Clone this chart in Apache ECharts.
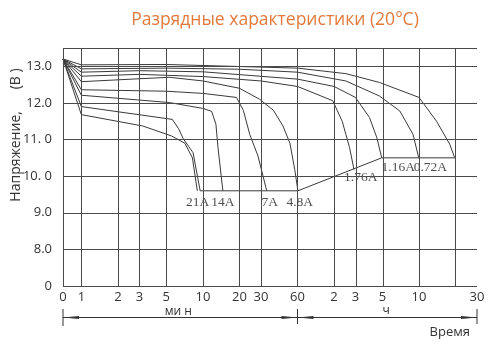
<!DOCTYPE html>
<html><head><meta charset="utf-8">
<script src="https://cdn.jsdelivr.net/npm/echarts@6/dist/echarts.min.js"></script>
<style>html,body{margin:0;padding:0;background:#fff}#c{width:502px;height:345px}</style>
</head><body><div id="c"></div>
<script>
// ---- axis ticks ----
const xTickMinutes = [0,1,2,3,5,10,20,30,60,120,180,300,600,1200,1800];
const xTickLabels  = ['0','1','2','3','5','10','20','30','60','2','3','5','10','','30'];
const yTickVolts   = [0,8,9,10,11,12,13];
const yTickLabels  = ['0','8.0','9.0','10. 0','11. 0','12.0','13.0'];
const yTopVolts = 13.5;

// ---- discharge curves (time in minutes, voltage in V) ----
const tExtra = [0,1,3.2,5.5,7.1,8.2,9.0];
const vExtra = [13.2,11.68,11.37,11.1,10.9,10.5,9.6];
const t21 = [0,1,5.6,6.3,6.9,8.3,9.5];
const v21 = [13.2,11.9,11.55,11.3,11.02,10.64,9.6];
const t14 = [0,1,5.3,10,11.8,12.8,13.3,14.6];
const v14 = [13.2,12.21,12.01,11.85,11.77,11.42,10.79,9.6];
const t7  = [0,1,5,10,18.9,21.5,24.3,28.4,33.5];
const v7  = [13.2,12.36,12.32,12.26,12.15,11.8,11.14,10.55,9.6];
const t48 = [0,1,3,5.3,10,20,29.3,38,45.6,52,57,60.5];
const v48 = [13.2,12.58,12.66,12.70,12.6,12.4,12.10,11.8,11.37,10.9,10.18,9.6];
const t176 = [0,1,3,10,30,60,117,140,161,175];
const v176 = [13.2,12.73,12.78,12.72,12.6,12.45,12.06,11.5,10.78,10.18];
const t116 = [0,1,3,10,60,120,180,235,270,296];
const v116 = [13.2,12.84,12.88,12.85,12.65,12.45,12.15,11.6,11.05,10.5];
const t072 = [0,1,5,20,60,150,283,417,536,597];
const v072 = [13.2,12.93,12.95,12.92,12.84,12.6,12.19,11.78,11.14,10.5];
const t035 = [0,1,5,60,150,283,600,836,1075,1180];
const v035 = [13.2,13.04,13.05,12.95,12.8,12.56,12.15,11.5,10.87,10.5];

// final-voltage line
const tCut = [9.5,60.5,296,1180];
const vCut = [9.6,9.6,10.5,10.5];

// current labels
const labelNames = ['21A','14A','7A','4.8A','1.76A','1.16A','0.72A'];
const labelT = [9.06,14.6,35.5,62.6,199,405,745];
const labelV = [9.6,9.6,9.6,9.6,10.28,10.5,10.5];

// ---- scales (broken axes) ----
const X0 = -0.151;
function tx(m){ return m <= 0 ? X0 : Math.log10(m); }
function ty(v){ return v >= 8 ? v - 7 : v / 8; }
function pts(t, v){ return t.map((m,i)=>[tx(m), ty(v[i])]); }

const curves = [[tExtra,vExtra],[t21,v21],[t14,v14],[t7,v7],[t48,v48],[t176,v176],[t116,v116],[t072,v072],[t035,v035]];
const LINE = '#3a3a3a', GRID = '#4a4a4a';

const series = curves.map(c=>({
  type:'line', data: pts(c[0],c[1]), showSymbol:false, symbol:'none', silent:true,
  lineStyle:{color:LINE, width:1}, z:3
}));
series.push({type:'line', data: pts(tCut,vCut), symbol:'none', silent:true, lineStyle:{color:LINE,width:1}, z:3});
series.push({
  type:'scatter', symbol:'circle', symbolSize:1, silent:true, z:4,
  itemStyle:{color:'rgba(0,0,0,0)'},
  data: labelNames.map((n,i)=>({value:[tx(labelT[i]), ty(labelV[i])], name:n,
      label:{distance: i>=5 ? 2 : 4}})),
  label:{show:true, position:'bottom', formatter:p=>p.name, fontFamily:'Liberation Serif', fontSize:13.5, color:'#222'}
});
// grid lines
series.push({
  type:'line', data:[[X0,0]], symbol:'none', lineStyle:{opacity:0}, silent:true, z:1,
  markLine:{silent:true, symbol:['none','none'], label:{show:false}, animation:false,
    lineStyle:{color:GRID, width:1, type:'solid'},
    data: xTickMinutes.map(m=>({xAxis: tx(m)})).concat(yTickVolts.map(v=>({yAxis: ty(v)}))).concat([{yAxis: ty(yTopVolts)}])
  }
});

const chart = echarts.init(document.getElementById('c'), null, {renderer:'canvas'});
const xVals = xTickMinutes.map(tx), yVals = yTickVolts.map(ty);
chart.setOption({
  animation:false,
  backgroundColor:'#fff',
  title:{text:'Разрядные характеристики (20°C)', left:270, top:6, textAlign:'center',
    textStyle:{color:'#E27A3B', fontSize:17.5, fontWeight:'normal', fontFamily:'Open Sans'}},
  grid:{left:63, right:25, top:48, bottom:59, outerBoundsMode:'none'},
  xAxis:{type:'value', min:X0, max:tx(1800),
    axisLine:{show:false}, axisTick:{show:false}, splitLine:{show:false},
    axisLabel:{customValues:xVals, margin:5, fontFamily:'Open Sans', fontSize:13, color:'#333',
      formatter:(v)=>{let b=0,d=1e9; xVals.forEach((x,i)=>{if(Math.abs(x-v)<d){d=Math.abs(x-v);b=i;}}); return xTickLabels[b];}}},
  yAxis:{type:'value', min:0, max:ty(yTopVolts),
    name:'Напряжение,      (В )', nameLocation:'middle', nameGap:40, nameMoveOverlap:false,
    nameTextStyle:{fontFamily:'Open Sans', fontSize:14, color:'#333', padding:[0,0,0,64]},
    axisLine:{show:false}, axisTick:{show:false}, splitLine:{show:false},
    axisLabel:{customValues:yVals, margin:11, fontFamily:'Open Sans', fontSize:13, color:'#333',
      formatter:(v)=>{let b=0,d=1e9; yVals.forEach((y,i)=>{if(Math.abs(y-v)<d){d=Math.abs(y-v);b=i;}}); return yTickLabels[b];}}},
  series: series
});

// dimension lines under the time axis
const px = m => chart.convertToPixel({gridIndex:0},[tx(m),0])[0];
const a = px(0), b = px(60), c = px(1800);
const yl = 317.5;
const st = {stroke:'#333', lineWidth:1};
function arrow(xTip, dir){ const L=16,h=1.6; return {type:'polygon', shape:{points:[[xTip,yl],[xTip+dir*L,yl-h],[xTip+dir*L,yl+h]]}, style:{fill:'#333'}}; }
chart.setOption({graphic:[
  {type:'line', shape:{x1:a,y1:yl,x2:c,y2:yl}, style:st},
  {type:'line', shape:{x1:a,y1:309,x2:a,y2:326}, style:st},
  {type:'line', shape:{x1:b,y1:309,x2:b,y2:324}, style:st},
  {type:'line', shape:{x1:c,y1:309,x2:c,y2:324}, style:st},
  arrow(a,1), arrow(b,-1), arrow(b,1), arrow(c,-1),
  {type:'text', x:(a+b)/2-2, y:311.5, style:{text:'ми н', font:'12px "Open Sans"', fill:'#333', align:'center', verticalAlign:'middle'}},
  {type:'text', x:(b+c)/2-1, y:311, style:{text:'ч', font:'12px "Open Sans"', fill:'#333', align:'center', verticalAlign:'middle'}},
  {type:'text', x:470, y:332, style:{text:'Время', font:'13px "Open Sans"', fill:'#333', align:'right', verticalAlign:'middle'}}
]});
</script></body></html>
